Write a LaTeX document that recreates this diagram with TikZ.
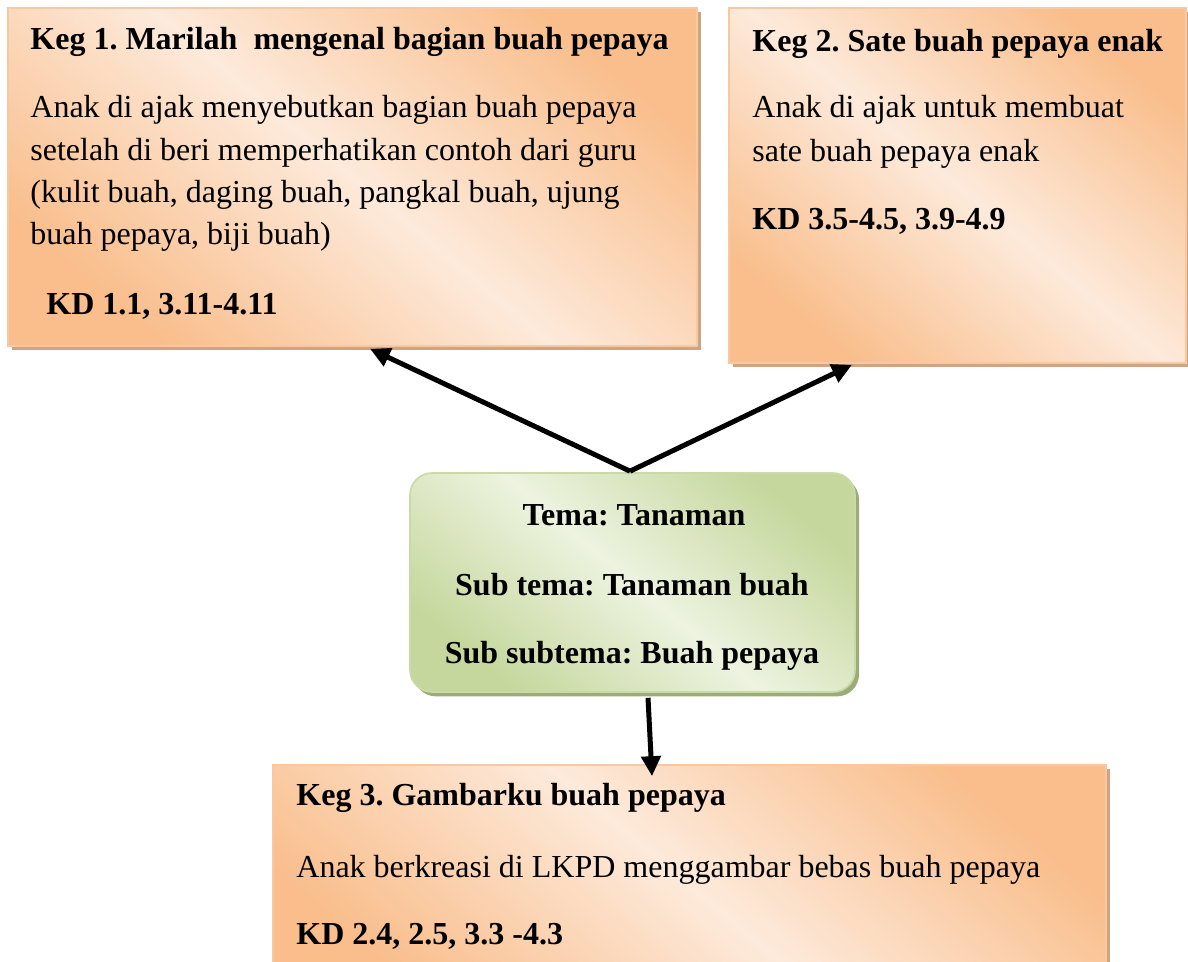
\documentclass[tikz,border=0pt]{standalone}
\usepackage{fontspec}
\setmainfont{Liberation Serif}
\frenchspacing
\usetikzlibrary{arrows.meta,shadows,calc}
\definecolor{odark}{HTML}{F9BE8C}
\definecolor{olight}{HTML}{FDEADB}
\definecolor{oborder}{HTML}{FAC8A0}
\definecolor{oshadow}{HTML}{CFA484}
\definecolor{gdark}{HTML}{C5D79C}
\definecolor{glight}{HTML}{EDF3E0}
\definecolor{gborder}{HTML}{C9DAA6}
\definecolor{gshadow}{HTML}{9CAC78}
\begin{document}
\begin{tikzpicture}[x=0.5pt,y=-0.5pt,
  obox/.style={draw=oborder, line width=0.8pt, inner sep=0pt,
    top color=odark, bottom color=odark, middle color=olight, shading angle=-40,
    drop shadow={shadow xshift=2pt, shadow yshift=-2.2pt, fill=oshadow, opacity=1}},
  gbox/.style={draw=gborder, line width=0.8pt, inner sep=0pt, rounded corners=11pt,
    top color=gdark, bottom color=gdark, middle color=glight, shading angle=-40,
    drop shadow={shadow xshift=2pt, shadow yshift=-2.2pt, fill=gshadow, opacity=1}},
  txt/.style={inner sep=0pt, anchor=base west, font=\fontsize{16}{21}\selectfont\frenchspacing},
  btxt/.style={txt, font=\fontsize{16}{21}\selectfont\bfseries\frenchspacing},
  ctxt/.style={btxt, anchor=base},
  arr/.style={line width=2.5pt, -{Triangle[length=10pt,width=9.5pt]}}
]
\useasboundingbox (0,0) rectangle (1188,962);
\clip (0,0) rectangle (1188,962);

% boxes
\node[obox, minimum width=344.5pt, minimum height=169pt] (box1) at (352.5,177) {};
\node[obox, minimum width=228.5pt, minimum height=177.5pt] (box2) at (957.5,185.5) {};
\node[gbox, minimum width=222.5pt, minimum height=109.5pt] (cbox) at (632.5,582.5) {};
\node[obox, minimum width=416.5pt, minimum height=120pt] (box3) at (689.5,885) {};

% box 1 text
\node[btxt] (t1a) at (30,50) {Keg 1. Marilah\ \ mengenal bagian buah pepaya};
\node[txt] (t1b) at (30,118) {Anak di ajak menyebutkan bagian buah pepaya};
\node[txt] (t1c) at (30,161) {setelah di beri memperhatikan contoh dari guru};
\node[txt] (t1d) at (30,203) {(kulit buah, daging buah, pangkal buah, ujung};
\node[txt] (t1e) at (30,245) {buah pepaya, biji buah)};
\node[btxt] (t1f) at (46,315) {KD 1.1, 3.11-4.11};

% box 2 text
\node[btxt] (t2a) at (752,52) {Keg 2. Sate buah pepaya enak};
\node[txt] (t2b) at (752,118) {Anak di ajak untuk membuat};
\node[txt] (t2c) at (752,162) {sate buah pepaya enak};
\node[btxt] (t2d) at (752,230) {KD 3.5-4.5, 3.9-4.9};

% center text
\node[ctxt] (c1) at (634,525) {Tema: Tanaman};
\node[ctxt] (c2) at (632,595) {Sub tema: Tanaman buah};
\node[ctxt] (c3) at (632,663) {Sub subtema: Buah pepaya};

% box 3 text
\node[btxt] (t3a) at (296,805) {Keg 3. Gambarku buah pepaya};
\node[txt] (t3b) at (296,877) {Anak berkreasi di LKPD menggambar bebas buah pepaya};
\node[btxt] (t3c) at (296,944) {KD 2.4, 2.5, 3.3 -4.3};

% arrows
\coordinate (top) at ($(cbox.north)+(-2.5,-1)$);
\draw[arr] (top) -- ($(box1.south)+(17.5,2)$);
\draw[arr] (top) -- ($(box2.south)+(-105.5,1)$);
\draw[arr] ($(cbox.south)+(15.5,5)$) -- ($(box3.north)+(-37.5,12)$);
\end{tikzpicture}
\end{document}
